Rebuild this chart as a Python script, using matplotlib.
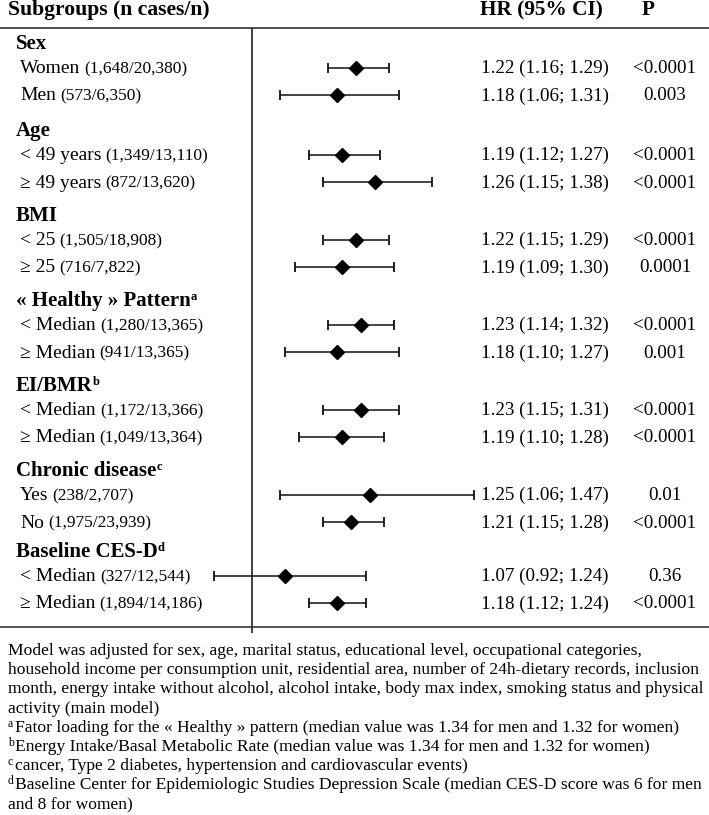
import numpy as np
import matplotlib.pyplot as plt
from matplotlib.transforms import blended_transform_factory

plt.rcParams['font.family'] = ['Liberation Serif', 'DejaVu Serif']

# data
groups = ['Sex', 'Age', 'BMI', '« Healthy » Pattern', 'EI/BMR', 'Chronic disease', 'Baseline CES-D']
group_sup = ['', '', '', 'a', 'b', 'c', 'd']
labels = ['Women', 'Men', '< 49 years', '≥ 49 years', '< 25', '≥ 25',
          '< Median', '≥ Median', '< Median', '≥ Median', 'Yes', 'No', '< Median', '≥ Median']
counts = ['(1,648/20,380)', '(573/6,350)', '(1,349/13,110)', '(872/13,620)', '(1,505/18,908)',
          '(716/7,822)', '(1,280/13,365)', '(941/13,365)', '(1,172/13,366)', '(1,049/13,364)',
          '(238/2,707)', '(1,975/23,939)', '(327/12,544)', '(1,894/14,186)']
# drawn estimates / CI ends
hr = [1.22, 1.18, 1.19, 1.26, 1.22, 1.19, 1.23, 1.18, 1.23, 1.19, 1.25, 1.21, 1.07, 1.18]
lo = [1.16, 1.06, 1.12, 1.15, 1.15, 1.09, 1.16, 1.07, 1.15, 1.10, 1.06, 1.15, 0.92, 1.12]
hi = [1.29, 1.31, 1.27, 1.38, 1.29, 1.30, 1.30, 1.31, 1.31, 1.28, 1.47, 1.28, 1.24, 1.24]
hr_text = ['1.22 (1.16; 1.29)', '1.18 (1.06; 1.31)', '1.19 (1.12; 1.27)', '1.26 (1.15; 1.38)',
           '1.22 (1.15; 1.29)', '1.19 (1.09; 1.30)', '1.23 (1.14; 1.32)', '1.18 (1.10; 1.27)',
           '1.23 (1.15; 1.31)', '1.19 (1.10; 1.28)', '1.25 (1.06; 1.47)', '1.21 (1.15; 1.28)',
           '1.07 (0.92; 1.24)', '1.18 (1.12; 1.24)']
pvals = ['<0.0001', '0.003', '<0.0001', '<0.0001', '<0.0001', '0.0001', '<0.0001', '0.001',
         '<0.0001', '<0.0001', '0.01', '<0.0001', '0.36', '<0.0001']

notes = [
    ('', 'Model was adjusted for sex, age, marital status, educational level, occupational categories,'),
    ('', 'household income per consumption unit, residential area, number of 24h-dietary records, inclusion'),
    ('', 'month, energy intake without alcohol, alcohol intake, body max index, smoking status and physical'),
    ('', 'activity (main model)'),
    ('a', 'Fator loading for the « Healthy » pattern (median value was 1.34 for men and 1.32 for women)'),
    ('b', 'Energy Intake/Basal Metabolic Rate (median value was 1.34 for men and 1.32 for women)'),
    ('c', 'cancer, Type 2 diabetes, hypertension and cardiovascular events)'),
    ('d', 'Baseline Center for Epidemiologic Studies Depression Scale (median CES-D score was 6 for men'),
    ('', 'and 8 for women)'),
]

W, H = 709, 815
fig = plt.figure(figsize=(W / 100, H / 100), dpi=100)
ax = fig.add_axes([0, 0, 1, 1])
# HR scale: 1.0 sits at 252 px, 473 px per unit
ax.set_xlim(1 - 252 / 473, 1 + (W - 252) / 473)
ax.set_ylim(H, 0)
ax.axis('off')
tr = blended_transform_factory(ax.transAxes, ax.transData)

# row layout
head_y, row_y = [], []
y = 42
gaps = [0, 34, 32, 32, 32, 32, 28]
for g in range(len(groups)):
    y += gaps[g]
    head_y.append(y)
    y += 25.5
    row_y.append(y)
    y += 27.5
    row_y.append(y)
row_y = np.array(row_y)

# header
ax.text(8 / W, 15, 'Subgroups (n cases/n)', transform=tr, fontsize=15.6, fontweight='bold', va='baseline')
ax.text(480 / W, 15, 'HR (95% CI)', transform=tr, fontsize=15.3, fontweight='bold', va='baseline')
ax.text(648 / W, 15, 'P', transform=tr, fontsize=15.3, fontweight='bold', va='baseline', ha='center')
ax.axhline(28, color='#444444', lw=1.3)
ax.axhline(627, color='#444444', lw=1.3)
ax.vlines(1.0, 28, 633, color='#333333', lw=1.3)

for g, name in enumerate(groups):
    t = ax.text(16 / W, head_y[g] + 7, name, transform=tr, fontsize=15, fontweight='bold', va='baseline')
    if group_sup[g]:
        ax.annotate(group_sup[g], xy=(1, head_y[g] + 1), xycoords=(t, 'data'), fontsize=9,
                    fontweight='bold', va='baseline', xytext=(0, 0), textcoords='offset points')

for i in range(len(labels)):
    yb = row_y[i] + 5.5
    t = ax.text(20 / W, yb, labels[i], transform=tr, fontsize=14, va='baseline')
    ax.annotate(counts[i], xy=(1, yb), xycoords=(t, 'data'), fontsize=12.5, va='baseline',
                xytext=(3, 0), textcoords='offset points')
    ax.text(481 / W, yb, hr_text[i], transform=tr, fontsize=13.7, va='baseline')
    ax.text(665 / W, yb, pvals[i], transform=tr, fontsize=13.7, va='baseline', ha='center')

ax.errorbar(hr, row_y, xerr=[np.array(hr) - np.array(lo), np.array(hi) - np.array(hr)],
            fmt='D', color='black', ms=7.6, ecolor='#111111', elinewidth=1.1,
            capsize=3.6, capthick=1.3)

# footnotes
for k, (sup, line) in enumerate(notes):
    yb = 655 + 19.2 * k
    if sup:
        s = ax.text(8 / W, yb - 5, sup, transform=tr, fontsize=8.5, va='baseline')
        ax.annotate(line, xy=(1, yb), xycoords=(s, 'data'), fontsize=12.6, va='baseline',
                    xytext=(1, 0), textcoords='offset points')
    else:
        ax.text(8 / W, yb, line, transform=tr, fontsize=12.6, va='baseline')

fig.savefig('out.png', dpi=100)
